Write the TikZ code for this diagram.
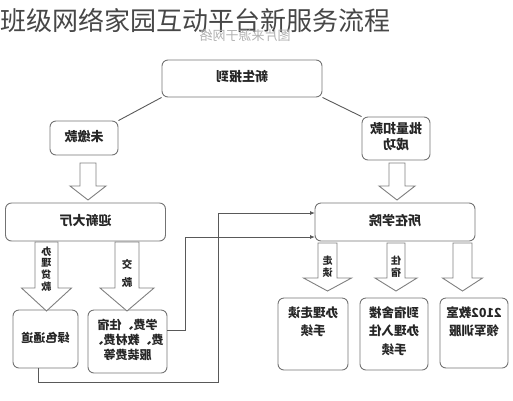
\documentclass[tikz,border=0pt]{standalone}
\usepackage{fontspec}
\setmainfont{Noto Sans CJK SC}
\usepackage{graphicx}
\usetikzlibrary{arrows.meta}
\newcommand{\mir}[1]{\reflectbox{\begin{tabular}{@{}c@{}}#1\end{tabular}}}
\newcommand{\bt}{\fontsize{13}{16}\selectfont\bfseries}
\newcommand{\st}{\fontsize{12}{15}\selectfont\bfseries}
\newcommand{\rt}{\fontsize{12.5}{18.5}\selectfont\bfseries}
\newcommand{\vt}{\fontsize{10}{11}\selectfont\bfseries}
\newcommand{\harrow}[6]{%
  \draw[harr] ({#1-#3},#2) -- ({#1+#3},#2) -- ({#1+#3},#5) -- ({#1+#4},#5)
    -- (#1,#6) -- ({#1-#4},#5) -- ({#1-#3},#5) -- cycle;}
\begin{document}
\begin{tikzpicture}[x=1pt,y=-1pt,
  box/.style={draw=black!55, line width=0.9pt, rounded corners=6pt, inner sep=0pt, font=\bt, text=black!85},
  sbox/.style={box, font=\st},
  conn/.style={draw=black!65, line width=0.9pt},
  harr/.style={draw=black!50, line width=0.9pt, fill=white},
  vtxt/.style={inner sep=0pt, font=\vt, text=black!85},
  rtxt/.style={inner sep=0pt, font=\rt, text=black!85, anchor=north}]
\useasboundingbox (0,0) rectangle (513,400);
% title and watermark
\node[anchor=west, inner sep=0pt, font=\fontsize{26}{28}\selectfont, text=black!72] (title) at (0,20) {班级网络家园互动平台新服务流程};
\node[inner sep=0pt, font=\fontsize{13}{14}\selectfont, text=black!30] (wm) at (245,35) {\reflectbox{图片来源于网络}};
% boxes
\node[box, minimum width=160pt, minimum height=37pt] (xs) at (242,78.5) {\mir{新生报到}};
\node[box, minimum width=68pt, minimum height=34pt] (wj) at (84,138) {\mir{未缴款}};
\node[box, minimum width=68pt, minimum height=43pt] (pl) at (396,138.5) {\mir{批量扣款\\成功}};
\node[box, minimum width=160pt, minimum height=38pt] (yx) at (85.5,222) {\mir{迎新大厅}};
\node[box, minimum width=160pt, minimum height=38pt] (sz) at (395,222) {\mir{所在学院}};
\node[sbox, minimum width=65pt, minimum height=58pt] (ld) at (45.5,339) {\mir{绿色通道}};
\node[sbox, minimum width=79pt, minimum height=63pt] (xf) at (127.5,341.5) {\mir{学费、住宿\\费、教材费、\\服装费等}};
\node[box, minimum width=70pt, minimum height=72pt] (b1) at (313,334) {};
\node[box, minimum width=68pt, minimum height=72pt] (b2) at (394,334) {};
\node[box, minimum width=68pt, minimum height=70pt] (b3) at (474,333) {};
\node[rtxt] (t1) at (313,304) {\mir{办理走读\\手续}};
\node[rtxt] (t2) at (394,304) {\mir{到宿舍楼\\办理入住\\手续}};
\node[rtxt] (t3) at (474,304) {\mir{2102教室\\领军训服}};
% diagonal links
\draw[conn] (xs.south west) -- (wj.north east);
\draw[conn] (xs.south east) -- (pl.north west);
% hollow arrows
\harrow{88}{163}{8}{18}{186}{200}
\harrow{397}{163}{8}{18}{186}{200}
\harrow{46.5}{242}{11.5}{25}{288}{311}
\harrow{127}{242}{12}{27}{288}{311}
\harrow{327.5}{243}{9.5}{24}{278}{291}
\harrow{396}{243}{9}{21}{278}{291}
\harrow{462.5}{243}{9.5}{20}{278}{291}
% arrow labels
\node[vtxt] (v1) at (46.5,270) {\mir{办\\理\\贷\\款}};
\node[vtxt, font=\fontsize{10.5}{18}\selectfont\bfseries] (v2) at (127,274) {\mir{交\\款}};
\node[vtxt] (v3) at (327.5,267.5) {\mir{走\\读}};
\node[vtxt] (v4) at (396,267.5) {\mir{住\\宿}};
% return connectors
\coordinate (o1) at (167,330);
\coordinate (k1) at (185,330);
\coordinate (k2) at (185,237);
\coordinate (in2) at (315,237);
\coordinate (o2) at (38,368);
\coordinate (k3) at (38,382);
\coordinate (k4) at (218,382);
\coordinate (k5) at (218,213);
\coordinate (in1) at (315,213);
\draw[conn, -{Latex[length=5pt,width=4pt]}] (o1) -- (k1) -- (k2) -- (in2);
\draw[conn, -{Latex[length=5pt,width=4pt]}] (o2) -- (k3) -- (k4) -- (k5) -- (in1);
\end{tikzpicture}
\end{document}
